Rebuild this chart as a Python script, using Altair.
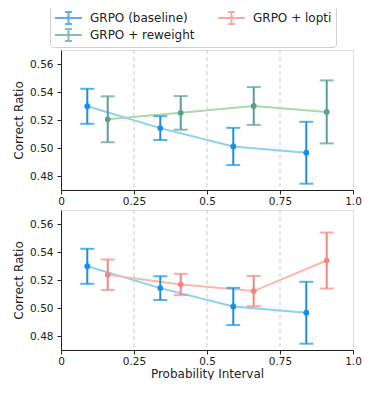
import altair as alt
import pandas as pd

# ---------------- data ----------------
series_names = ["GRPO (baseline)", "GRPO + reweight", "GRPO + lopti"]
legend_order = ["GRPO (baseline)", "GRPO + reweight", "GRPO + lopti"]

baseline_x = [0.09, 0.34, 0.59, 0.84]
baseline_y = [0.5298, 0.5142, 0.5011, 0.4966]
baseline_err = [0.0125, 0.0085, 0.0133, 0.0221]

reweight_x = [0.16, 0.41, 0.66, 0.91]
reweight_y = [0.5205, 0.5251, 0.5300, 0.5258]
reweight_err = [0.0164, 0.0120, 0.0135, 0.0225]

lopti_x = [0.16, 0.41, 0.66, 0.91]
lopti_y = [0.5237, 0.5168, 0.5121, 0.5339]
lopti_err = [0.0109, 0.0076, 0.0108, 0.0200]

grid_x = [0.25, 0.5, 0.75]
x_tick_values = [0, 0.25, 0.5, 0.75, 1.0]
x_tick_labels = ["0", "0.25", "0.5", "0.75", "1.0"]
y_tick_values = [0.48, 0.50, 0.52, 0.54, 0.56]

err_colors = {"GRPO (baseline)": "#1a8fe3", "GRPO + reweight": "#5b9e95", "GRPO + lopti": "#f2877f"}
line_colors = {"GRPO (baseline)": "#8dd0f6", "GRPO + reweight": "#a9daa9", "GRPO + lopti": "#fcb8ab"}

panels = {
    "top": ["GRPO (baseline)", "GRPO + reweight"],
    "bottom": ["GRPO (baseline)", "GRPO + lopti"],
}

raw = {
    "GRPO (baseline)": (baseline_x, baseline_y, baseline_err),
    "GRPO + reweight": (reweight_x, reweight_y, reweight_err),
    "GRPO + lopti": (lopti_x, lopti_y, lopti_err),
}

rows = []
for s, (xs, ys, es) in raw.items():
    for x, y, e in zip(xs, ys, es):
        rows.append({"series": s, "x": x, "y": y, "lo": y - e, "hi": y + e})
df_all = pd.DataFrame(rows)

FONT = "DejaVu Sans"
label_expr = " : ".join(
    f"datum.value == {v} ? '{l}'" for v, l in zip(x_tick_values, x_tick_labels)
) + " : ''"

xscale = alt.Scale(domain=[0, 1], nice=False, zero=False)
yscale = alt.Scale(domain=[0.47, 0.57], nice=False, zero=False)

glyph = ("M-1,0L1,0M0,-0.45L0,0.45M-0.26,-0.45L0.26,-0.45M-0.26,0.45L0.26,0.45"
         "M0.07,0A0.07,0.07 0 1,1 -0.07,0A0.07,0.07 0 1,1 0.07,0")

color_enc = alt.Color(
    "series:N",
    scale=alt.Scale(domain=legend_order, range=[err_colors[s] for s in legend_order]),
    legend=alt.Legend(
        title=None, orient="none", legendX=-11, legendY=-44, columns=2,
        symbolType=glyph, symbolSize=729, symbolStrokeWidth=2,
        symbolFillColor="transparent", clipHeight=16,
        labelFontSize=12, labelFont=FONT, labelColor="#222",
        strokeColor="#d0d0d0", fillColor="white", cornerRadius=3,
        padding=4, columnPadding=22, rowPadding=1, labelOffset=7,
    ),
)

AX = dict(tickSize=4, labelFontSize=10.5, titleFontSize=12,
          labelFont=FONT, titleFont=FONT, titleFontWeight="normal",
          domainColor="#222", tickColor="#222", labelColor="#222",
          titleColor="#222", grid=False)


def panel(key, show_title):
    names = panels[key]
    df = df_all[df_all["series"].isin(names)]
    xaxis = alt.Axis(values=x_tick_values, labelExpr=label_expr,
                     title="Probability Interval" if show_title else None,
                     titlePadding=2, labelPadding=2, labelFlush=False, **AX)
    yaxis = alt.Axis(values=y_tick_values, format=".2f", labelPadding=4,
                     title="Correct Ratio", titlePadding=4, **AX)
    X = alt.X("x:Q", scale=xscale, axis=xaxis)
    Y = alt.Y("y:Q", scale=yscale, axis=yaxis)

    grid = alt.Chart(pd.DataFrame({"g": grid_x})).mark_rule(
        color="#c6c9d2", strokeDash=[4, 3], strokeWidth=1
    ).encode(x=alt.X("g:Q", scale=xscale, axis=xaxis))

    layers = [grid]
    base = alt.Chart(df)
    for s in names:
        layers.append(
            base.transform_filter(alt.datum.series == s)
            .mark_line(color=line_colors[s], strokeWidth=2, interpolate="linear")
            .encode(x=X, y=Y, order="x:Q")
        )
    layers.append(base.mark_rule(strokeWidth=2).encode(
        x=X, y=alt.Y("lo:Q", scale=yscale, axis=yaxis), y2="hi:Q", color=color_enc))
    layers.append(base.mark_tick(orient="horizontal", size=14, thickness=2).encode(
        x=X, y=alt.Y("lo:Q", scale=yscale, axis=yaxis), color=color_enc))
    layers.append(base.mark_tick(orient="horizontal", size=14, thickness=2).encode(
        x=X, y=alt.Y("hi:Q", scale=yscale, axis=yaxis), color=color_enc))
    layers.append(base.mark_circle(size=34, opacity=1).encode(x=X, y=Y, color=color_enc))
    return alt.layer(*layers).properties(width=292, height=140)


chart = alt.vconcat(panel("top", False), panel("bottom", True), spacing=2).properties(
    padding={"left": 4, "top": -3, "right": 0, "bottom": 0}
).configure_view(
    fill="#eef5fe", stroke="#666", strokeWidth=1
).configure(background="white")

chart.save("out.html", embed_options={"renderer": "svg", "actions": False})
